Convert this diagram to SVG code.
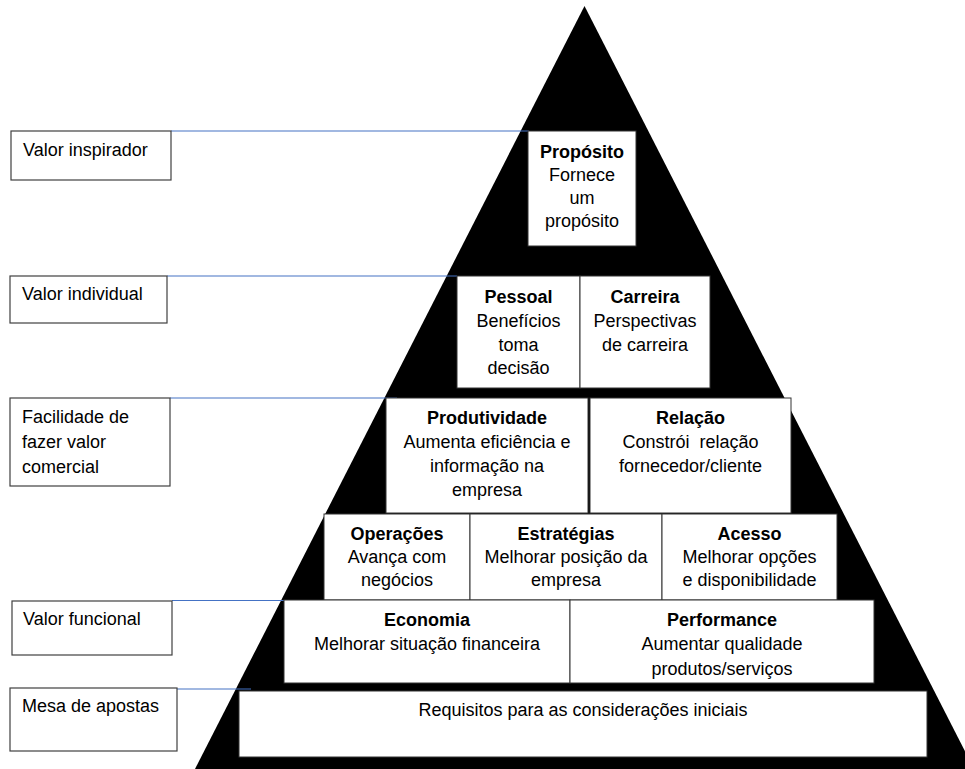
<svg xmlns="http://www.w3.org/2000/svg" width="965" height="769" viewBox="0 0 965 769">
<style>
text{font-family:"Liberation Sans",Arial,sans-serif;font-size:18px;fill:#000;}
.c{text-anchor:middle;}
.b{font-weight:bold;}
.lbl{fill:#fff;stroke:#404040;stroke-width:1.2;}
.box{fill:#fff;stroke:#333;stroke-width:1;}
.con{stroke:#4472C4;stroke-width:1.2;fill:none;}
</style>
<rect width="965" height="769" fill="#fff"/>
<polygon id="pyramid" points="584.5,6 195,769 974,769" fill="#000"/>

<g id="connectors">
<line class="con" x1="171" y1="131" x2="529" y2="131"/>
<line class="con" x1="167" y1="276" x2="457" y2="276"/>
<line class="con" x1="170" y1="398" x2="397" y2="398"/>
<line class="con" x1="172" y1="600.5" x2="285" y2="600.5"/>
<line class="con" x1="177" y1="689" x2="251" y2="689"/>
</g>

<g id="label-inspirador"><rect class="lbl" x="11" y="131" width="160" height="49"/><text x="23" y="156">Valor inspirador</text></g>
<g id="label-individual"><rect class="lbl" x="10" y="276" width="157" height="47"/><text x="22" y="300">Valor individual</text></g>
<g id="label-facilidade"><rect class="lbl" x="10" y="398" width="160" height="88"/><text x="22" y="423">Facilidade de</text><text x="22" y="448">fazer valor</text><text x="22" y="473">comercial</text></g>
<g id="label-funcional"><rect class="lbl" x="12" y="601" width="160" height="54"/><text x="23" y="625">Valor funcional</text></g>
<g id="label-mesa"><rect class="lbl" x="10" y="688" width="167" height="63"/><text x="22" y="712">Mesa de apostas</text></g>

<g id="proposito"><rect class="box" x="528" y="131" width="108" height="115"/>
<text class="c b" x="582" y="158">Propósito</text><text class="c" x="582" y="181">Fornece</text><text class="c" x="582" y="204">um</text><text class="c" x="582" y="227">propósito</text></g>

<g id="pessoal"><rect class="box" x="457" y="276" width="123" height="112"/>
<text class="c b" x="518.5" y="303">Pessoal</text><text class="c" x="518.5" y="327">Benefícios</text><text class="c" x="518.5" y="351">toma</text><text class="c" x="518.5" y="374">decisão</text></g>
<g id="carreira"><rect class="box" x="580" y="276" width="130" height="112"/>
<text class="c b" x="645" y="303">Carreira</text><text class="c" x="645" y="327">Perspectivas</text><text class="c" x="645" y="351">de carreira</text></g>

<g id="produtividade"><rect class="box" x="386" y="398" width="202" height="115"/>
<text class="c b" x="487" y="424">Produtividade</text><text class="c" x="487" y="448">Aumenta eficiência e</text><text class="c" x="487" y="472">informação na</text><text class="c" x="487" y="496">empresa</text></g>
<g id="relacao"><rect class="box" x="590" y="398" width="201" height="115"/>
<text class="c b" x="690.5" y="424">Relação</text><text class="c" x="690.5" y="448" xml:space="preserve">Constrói  relação</text><text class="c" x="690.5" y="472">fornecedor/cliente</text></g>

<g id="operacoes"><rect class="box" x="324" y="514" width="146" height="86"/>
<text class="c b" x="397" y="540">Operações</text><text class="c" x="397" y="563">Avança com</text><text class="c" x="397" y="586">negócios</text></g>
<g id="estrategias"><rect class="box" x="470" y="514" width="192" height="86"/>
<text class="c b" x="566" y="540">Estratégias</text><text class="c" x="566" y="563">Melhorar posição da</text><text class="c" x="566" y="586">empresa</text></g>
<g id="acesso"><rect class="box" x="662" y="514" width="175" height="86"/>
<text class="c b" x="749.5" y="540">Acesso</text><text class="c" x="749.5" y="563">Melhorar opções</text><text class="c" x="749.5" y="586">e disponibilidade</text></g>

<g id="economia"><rect class="box" x="284" y="600" width="286" height="83"/>
<text class="c b" x="427" y="626">Economia</text><text class="c" x="427" y="650">Melhorar situação financeira</text></g>
<g id="performance"><rect class="box" x="570" y="600" width="304" height="83"/>
<text class="c b" x="722" y="626">Performance</text><text class="c" x="722" y="650">Aumentar qualidade</text><text class="c" x="722" y="675">produtos/serviços</text></g>

<g id="requisitos"><rect class="box" x="239" y="691" width="688" height="66"/>
<text class="c" x="583" y="716">Requisitos para as considerações iniciais</text></g>
</svg>
